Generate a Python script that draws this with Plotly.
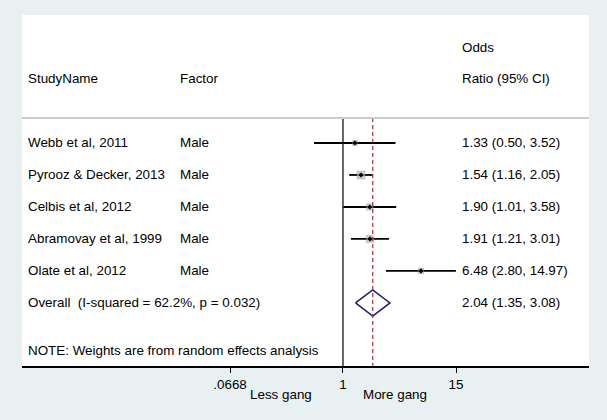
import plotly.graph_objects as go

# ---- data ----
studies = ["Webb et al, 2011", "Pyrooz & Decker, 2013", "Celbis et al, 2012",
           "Abramovay et al, 1999", "Olate et al, 2012"]
factors = ["Male", "Male", "Male", "Male", "Male"]
odds_ratio = [1.33, 1.54, 1.90, 1.91, 6.48]
ci_low = [0.50, 1.16, 1.01, 1.21, 2.80]
ci_high = [3.52, 2.05, 3.58, 3.01, 14.97]
weights_pct = [11.7, 30.2, 19.2, 24.6, 14.2]   # random-effects weights (box area)
overall_or = 2.04
overall_low = 1.35
overall_high = 3.08
overall_label = "Overall  (I-squared = 62.2%, p = 0.032)"
note_text = "NOTE: Weights are from random effects analysis"
tick_vals = [0.0668, 1, 15]
tick_text = [".0668", "1", "15"]
favours = ["Less gang", "More gang"]

FONT = "Arial, Liberation Sans, sans-serif"
FS = 13.4
BG = "#E8F0F2"
rows = list(range(len(studies)))
overall_row = len(studies)
note_row = overall_row + 1.5
sep_row = -0.78
y_bottom = 6.97

fig = go.Figure()

# CI lines
cx, cy = [], []
for r, lo, hi in zip(rows, ci_low, ci_high):
    cx += [lo, hi, None]
    cy += [r, r, None]
fig.add_trace(go.Scatter(x=cx, y=cy, mode="lines",
                         line=dict(color="black", width=1.8),
                         hoverinfo="skip", showlegend=False))

# weight boxes
sizes = [1.45 * (w ** 0.5) for w in weights_pct]
fig.add_trace(go.Scatter(x=odds_ratio, y=rows, mode="markers",
                         marker=dict(symbol="square", size=sizes, color="#B4B4B4",
                                     line=dict(color="#8C8C8C", width=0.5)),
                         showlegend=False))
# point estimates
fig.add_trace(go.Scatter(x=odds_ratio, y=rows, mode="markers",
                         marker=dict(symbol="diamond", size=4, color="black"),
                         showlegend=False))

# overall diamond
h = 0.41
fig.add_trace(go.Scatter(x=[overall_low, overall_or, overall_high, overall_or, overall_low],
                         y=[overall_row, overall_row - h, overall_row, overall_row + h, overall_row],
                         mode="lines", line=dict(color="#1C1C72", width=1.5),
                         hoverinfo="skip", showlegend=False))

# reference line at 1 and overall dashed line
fig.add_trace(go.Scatter(x=[1, 1], y=[sep_row, y_bottom], mode="lines",
                         line=dict(color="black", width=1.2),
                         hoverinfo="skip", showlegend=False))
fig.add_trace(go.Scatter(x=[overall_or, overall_or], y=[sep_row, y_bottom], mode="lines",
                         line=dict(color="#A8323C", width=1.2, dash="4px,3px"),
                         hoverinfo="skip", showlegend=False))

# header separator
fig.add_shape(type="line", xref="paper", yref="y", x0=0, x1=1, y0=sep_row, y1=sep_row,
              line=dict(color="#CCCCCC", width=2))

ann = []
def txt(x, y, s, xref="paper", yref="y", xanchor="left"):
    ann.append(dict(x=x, y=y, xref=xref, yref=yref, text=s, showarrow=False,
                    xanchor=xanchor, yanchor="middle",
                    font=dict(family=FONT, size=FS, color="black")))

X_STUDY, X_FACTOR, X_CI = 0.007, 0.2752, 0.7725

# headers
txt(X_STUDY, -2, "StudyName")
txt(X_FACTOR, -2, "Factor")
txt(X_CI, -3, "Odds")
txt(X_CI, -2, "Ratio (95% CI)")

for r, s, f, o, lo, hi in zip(rows, studies, factors, odds_ratio, ci_low, ci_high):
    txt(X_STUDY, r, s)
    txt(X_FACTOR, r, f)
    txt(X_CI, r, f"{o:.2f} ({lo:.2f}, {hi:.2f})")

txt(X_STUDY, overall_row, overall_label)
txt(X_CI, overall_row, f"{overall_or:.2f} ({overall_low:.2f}, {overall_high:.2f})")
txt(X_STUDY, note_row, note_text)

# favours labels (x in log10 units, y in paper units below the axis)
txt(-0.30, -0.0826, favours[0], xref="x", yref="paper", xanchor="right")
txt(0.19, -0.0826, favours[1], xref="x", yref="paper", xanchor="left")

fig.update_layout(
    width=607, height=420,
    margin=dict(l=22, r=18, t=15, b=54),
    paper_bgcolor=BG,
    plot_bgcolor="white",
    annotations=ann,
    font=dict(family=FONT, size=FS, color="black"),
    showlegend=False,
)
fig.update_xaxes(type="log", range=[-3.340, 2.560],
                 tickvals=tick_vals, ticktext=tick_text,
                 ticks="outside", ticklen=5, tickwidth=1.2, tickcolor="black",
                 showline=True, linecolor="black", linewidth=1.5,
                 showgrid=False, zeroline=False,
                 tickfont=dict(family=FONT, size=FS, color="black"))
fig.update_yaxes(range=[y_bottom, -4], visible=False, showgrid=False, zeroline=False)

fig.write_html("out.html", config={"displayModeBar": False},
               post_script="document.body.style.margin='0';"
                           "document.body.style.background='" + BG + "';")
